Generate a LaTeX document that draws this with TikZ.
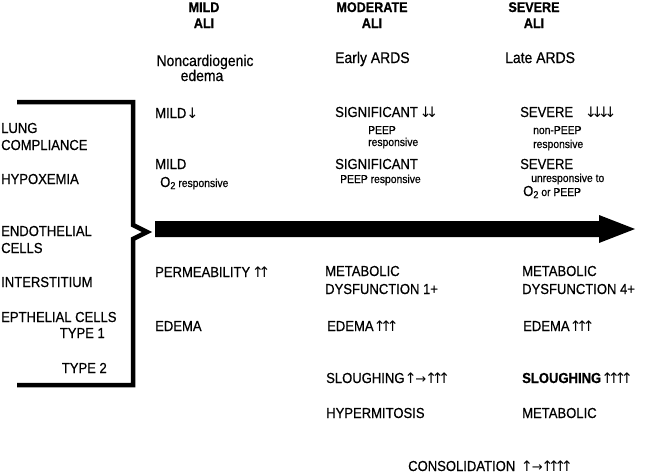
\documentclass[tikz,border=0pt]{standalone}
\usepackage{fontspec}
\setmainfont[FakeStretch=0.9,FakeBold=0.6]{Liberation Sans}
\newfontfamily\dvfont{DejaVu Sans}
\newcommand\fmain{\fontsize{14.5}{16}\selectfont}
\newcommand\flow{\fontsize{15.5}{17}\selectfont}
\newcommand\fsmall{\fontsize{11.5}{13}\selectfont}
\newcommand\fhead{\fontsize{14}{15}\selectfont\bfseries}
\newcommand\ua{\hbox to 7.5pt{\hss{\dvfont\fontsize{14.5}{14}\selectfont\char"2191}\hss}}
\newcommand\da{\hbox to 7.5pt{\hss{\dvfont\fontsize{14.5}{14}\selectfont\char"2193}\hss}}
\newcommand\rarr{\hbox to 15pt{\hss{\dvfont\fontsize{13}{13}\selectfont\char"2192}\hss}}
\tikzset{
  txt/.style={anchor=base west, inner sep=0pt, font=\fmain},
  txtr/.style={anchor=base east, inner sep=0pt, font=\fmain},
  low/.style={anchor=base west, inner sep=0pt, font=\flow},
  lowc/.style={anchor=base, inner sep=0pt, font=\flow},
  sml/.style={anchor=base west, inner sep=0pt, font=\fsmall},
  head/.style={anchor=base, inner sep=0pt, font=\fhead},
  brace/.style={line width=4.5pt, line join=miter, line cap=butt},
}
\begin{document}
\begin{tikzpicture}[x=1pt,y=-1pt]
\useasboundingbox (0,0) rectangle (650,475);
% headers
\node[head] (h1a) at (204,12) {MILD};
\node[head] (h1b) at (204,28) {ALI};
\node[head] (h2a) at (372,12) {MODERATE};
\node[head] (h2b) at (372,28) {ALI};
\node[head] (h3a) at (534,12) {SEVERE};
\node[head] (h3b) at (534,28) {ALI};
\node[lowc] (s1a) at (205,66) {Noncardiogenic};
\node[lowc] (s1b) at (202,81) {edema};
\node[low] (s2) at (335,63) {Early ARDS};
\node[low] (s3) at (505,63) {Late ARDS};
% bracket
\coordinate (bt0) at (17,102);
\coordinate (bt1) at (133,102);
\coordinate (bn0) at (133,225);
\coordinate (bn1) at (147,232);
\coordinate (bn2) at (133,239);
\coordinate (bb1) at (133,385);
\coordinate (bb0) at (17,385);
\draw[brace] (bt0) -- (bt1) -- (bn0) -- (bn1) -- (bn2) -- (bb1) -- (bb0);
% big arrow
\coordinate (a0) at (155,221);
\coordinate (a1) at (599,221);
\coordinate (a2) at (599,215);
\coordinate (a3) at (635,229);
\coordinate (a4) at (599,243);
\coordinate (a5) at (599,237);
\coordinate (a6) at (155,237);
\fill (a0) -- (a1) -- (a2) -- (a3) -- (a4) -- (a5) -- (a6) -- cycle;
% left labels
\node[txt] (l1) at (1,133) {LUNG};
\node[txt] (l2) at (1,150) {COMPLIANCE};
\node[txt] (l3) at (1,184) {HYPOXEMIA};
\node[txt] (l4) at (1,236) {ENDOTHELIAL};
\node[txt] (l5) at (1,253) {CELLS};
\node[txt] (l6) at (1,287) {INTERSTITIUM};
\node[txt] (l7) at (1,322) {EPTHELIAL CELLS};
\node[txtr] (l8) at (105,338) {TYPE 1};
\node[txtr] (l9) at (107,373) {TYPE 2};
% mild column
\node[txt] (m1) at (155,118) {MILD\,\da};
\node[txt] (m2) at (155,169) {MILD};
\node[txt] (m3) at (160,187) {O\textsubscript{2}\,{\fsmall responsive}};
\node[txt] (m4) at (155,277) {PERMEABILITY\hspace{4pt}\ua\kern-1pt\ua};
\node[txt] (m5) at (155,331) {EDEMA};
% moderate column
\node[txt] (d1) at (335,117) {SIGNIFICANT\hspace{4pt}\da\kern-1pt\da};
\node[sml] (d2) at (368,134) {PEEP};
\node[sml] (d3) at (368,146) {responsive};
\node[txt] (d4) at (335,169) {SIGNIFICANT};
\node[sml] (d5) at (340,183) {PEEP responsive};
\node[txt] (d6) at (325,276) {METABOLIC};
\node[txt] (d7) at (325,294) {DYSFUNCTION 1+};
\node[txt] (d8) at (327,331) {EDEMA\,\ua\kern-1pt\ua\kern-1pt\ua};
\node[txt] (d9) at (326,383) {SLOUGHING\,\ua\kern-1pt\rarr\kern-1pt\ua\kern-1pt\ua\kern-1pt\ua};
\node[txt] (d10) at (326,418) {HYPERMITOSIS};
% severe column
\node[txt] (v1) at (520,117) {SEVERE\hspace{14pt}\da\kern-1pt\da\kern-1pt\da\kern-1pt\da};
\node[sml] (v2) at (533,134) {non-PEEP};
\node[sml] (v3) at (533,148) {responsive};
\node[txt] (v4) at (520,169) {SEVERE};
\node[sml] (v5) at (531,182) {unresponsive to};
\node[txt] (v6) at (523,196) {O\textsubscript{2}\,{\fsmall or PEEP}};
\node[txt] (v7) at (522,276) {METABOLIC};
\node[txt] (v8) at (522,294) {DYSFUNCTION 4+};
\node[txt] (v9) at (523,331) {EDEMA\,\ua\kern-1pt\ua\kern-1pt\ua};
\node[txt] (v10) at (522,383) {\textbf{SLOUGHING}\,\ua\kern-1pt\ua\kern-1pt\ua\kern-1pt\ua};
\node[txt] (v11) at (522,418) {METABOLIC};
% consolidation
\node[txt] (c1) at (408,471) {CONSOLIDATION\hspace{8pt}\ua\kern-1pt\rarr\kern-1pt\ua\kern-1pt\ua\kern-1pt\ua\kern-1pt\ua};
\end{tikzpicture}
\end{document}
